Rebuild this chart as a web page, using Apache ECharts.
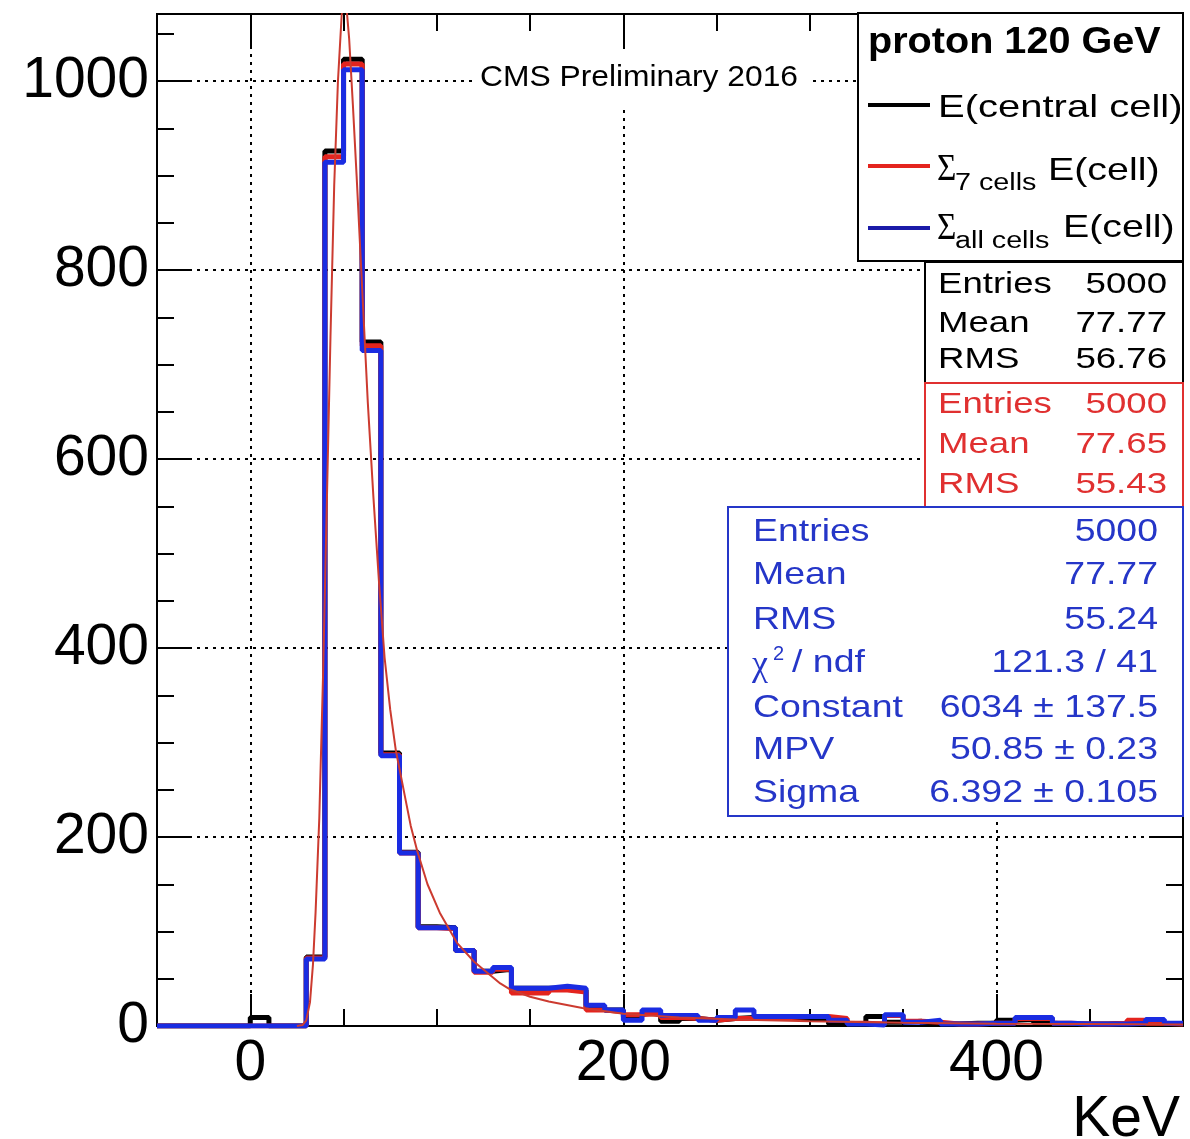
<!DOCTYPE html>
<html>
<head>
<meta charset="utf-8">
<script src="https://cdn.jsdelivr.net/npm/echarts@6/dist/echarts.min.js"></script>
<style>
html,body{margin:0;padding:0;background:#fff;}
#c{width:1190px;height:1139px;}
</style>
</head>
<body>
<div id="c"></div>
<script>
// ---------------- data ----------------
const xMin = -50, xMax = 500;          // KeV
const yMin = 0, yMax = 1071;           // counts
const binStart = -50, binWidth = 10;   // histogram binning (55 bins)
const xTickLabels = [0, 200, 400];
const yTickLabels = [0, 200, 400, 600, 800, 1000];

// bins: -50,-40,...,490 (left edges)
const centralCell = [0,0,0,0,0,9,0,0, 73,926,1023,724,289,184,105,104,80,58,60,40,40,40,38,20,17,10,14,5,8,6,8,9,8,8,8,8,2,2,10,4,5,2,2,3,3,6,7,3,2,2,2,3,5,3,2];
const sum7Cells   = [0,0,0,0,0,0,0,0, 72,920,1018,720,287,183,104,103,80,57,60,35,35,38,36,17,15,12,14,9,8,6,8,8,9,9,10,10,8,3,2,11,5,4,2,2,3,3,8,8,3,2,2,3,6,3,2];
const sumAllCells = [0,0,0,0,0,0,0,0, 71,914,1012,715,286,183,104,104,80,58,62,40,40,42,40,22,17,6,17,11,11,6,9,17,10,10,10,10,6,2,1,12,4,6,2,2,3,3,9,9,3,2,2,2,3,7,3];

// Landau fit curve of the "all cells" histogram
const fitX = [25,28,30,32,33.6,35,37,39,41,43,45,47,49,50.1,51.5,53,55,57,60,63,66,69,72,75,78,80,83,86,89.4,95,101.8,110.8,120,134,139,150,160,178,200,230,260,300,350,400,450,500];
const fitY = [0,1,6,25,65,120,220,370,550,730,890,1000,1070,1088,1080,1045,975,900,780,660,560,470,390,335,292,272,242,212,186,150,119,88,68,45,39,31,26,19,13,9,7,5,3.5,2.5,2,1.5];

const legendTitle = 'proton 120 GeV';
const seriesNames = ['E(central cell)', 'Σ7 cells E(cell)', 'Σall cells E(cell)', 'Landau fit'];
const statsCentral = [['Entries','5000'],['Mean','77.77'],['RMS','56.76']];
const stats7Cells  = [['Entries','5000'],['Mean','77.65'],['RMS','55.43']];
const statsAll     = [['Entries','5000'],['Mean','77.77'],['RMS','55.24'],['χ2 / ndf','121.3 / 41'],['Constant','6034 ± 137.5'],['MPV','50.85 ± 0.23'],['Sigma','6.392 ± 0.105']];
const watermark = 'CMS Preliminary 2016';
const xAxisTitle = 'KeV';

// ---------------- chart ----------------
const FONT = '"Liberation Sans", Arial, Helvetica, sans-serif';
const SERIF = '"Liberation Serif", "DejaVu Serif", serif';
const BLACK = '#000000', RED = '#e4241e', BLUE = '#1a2ce2', FITC = '#cc3b30';
const TXT_BLUE = '#2536c8', TXT_RED = '#e03030';

function histData(vals) {
  const d = vals.map((v, i) => [binStart + i * binWidth, v]);
  d.push([binStart + vals.length * binWidth, vals[vals.length - 1]]);
  return d;
}

const tickStyle = {color: '#000', width: 2};
function xAx(pos, major, extra) {
  return Object.assign({
    type: 'value', position: pos, min: xMin, max: xMax, interval: 50,
    axisLine: {show: false, onZero: false},
    axisTick: major ? {show: true, inside: true, length: 32, customValues: xTickLabels, lineStyle: tickStyle}
                    : {show: true, inside: true, length: 17, lineStyle: tickStyle},
    axisLabel: {show: false},
    splitLine: {show: false}
  }, extra || {});
}
function yAx(pos, major, extra) {
  return Object.assign({
    type: 'value', position: pos, min: yMin, max: yMax, interval: major ? 200 : 50,
    axisLine: {show: false, onZero: false},
    axisTick: {show: true, inside: true, length: major ? 32 : 17, lineStyle: tickStyle},
    axisLabel: {show: false},
    splitLine: {show: false}
  }, extra || {});
}
const gridLine = {show: true, lineStyle: {color: '#000', width: 2, type: [3, 5]}};
const plainNum = v => String(v);

const xAxes = [
  xAx('bottom', false),
  xAx('bottom', true, {
    axisLabel: {show: true, customValues: xTickLabels, formatter: plainNum, fontSize: 57, color: '#000', fontFamily: FONT, margin: 10},
    splitLine: gridLine,
    name: xAxisTitle, nameLocation: 'end', nameGap: -3,
    nameTextStyle: {fontSize: 57, color: '#000', fontFamily: FONT, align: 'right', verticalAlign: 'top', padding: [66, 0, 0, 0]}
  }),
  xAx('top', false),
  xAx('top', true)
];
const yAxes = [
  yAx('left', false),
  yAx('left', true, {
    axisLabel: {show: true, showMaxLabel: false, formatter: plainNum, fontSize: 57, color: '#000', fontFamily: FONT, margin: 8},
    splitLine: gridLine
  }),
  yAx('right', false),
  yAx('right', true)
];

// ---------------- boxes (legend / stats) ----------------
const G = [];
function rect(x, y, w, h, stroke) {
  G.push({type: 'rect', z: 100, shape: {x: x, y: y, width: w, height: h}, style: {fill: '#fff', stroke: stroke, lineWidth: 2}});
}
function txt(x, y, s, size, color, o) {
  o = o || {};
  G.push({type: 'text', z: 101, x: x, y: y, scaleX: o.sx || 1,
    style: {text: s, fontSize: size, fontFamily: o.family || FONT, fontWeight: o.weight || 'normal',
            fill: color, align: o.align || 'left', verticalAlign: 'middle'}});
}
function seg(x1, x2, y, color) {
  G.push({type: 'line', z: 101, shape: {x1: x1, y1: y, x2: x2, y2: y}, style: {stroke: color, lineWidth: 4}});
}

// CMS label
G.push({type: 'rect', z: 100, shape: {x: 472, y: 52, width: 338, height: 53}, style: {fill: '#fff'}});
txt(639, 78, watermark, 30, '#000', {align: 'center', sx: 1.06});

// legend
rect(858, 13, 325, 248, '#000');
txt(868, 43, legendTitle, 36, '#000', {weight: 'bold', sx: 1.1});
seg(868, 930, 105, BLACK);
seg(868, 930, 166, RED);
seg(868, 930, 228, '#1a1aa8');
txt(938, 108, seriesNames[0], 32, '#000', {sx: 1.25});
txt(937, 170, 'Σ', 37, '#000', {family: SERIF, sx: 0.9});
txt(955, 184, '7 cells', 23, '#000', {sx: 1.25});
txt(1048, 171, 'E(cell)', 32, '#000', {sx: 1.23});
txt(937, 229, 'Σ', 37, '#000', {family: SERIF, sx: 0.9});
txt(955, 242, 'all cells', 23, '#000', {sx: 1.25});
txt(1063, 228, 'E(cell)', 32, '#000', {sx: 1.23});

// stats: central cell (black)
rect(925, 262, 258, 121, '#000');
[285, 324, 360].forEach((y, i) => {
  txt(938, y, statsCentral[i][0], 30, '#000', {sx: 1.22});
  txt(1167, y, statsCentral[i][1], 30, '#000', {sx: 1.22, align: 'right'});
});
// stats: 7 cells (red)
rect(925, 383, 258, 124, TXT_RED);
[405, 445, 485].forEach((y, i) => {
  txt(938, y, stats7Cells[i][0], 30, TXT_RED, {sx: 1.22});
  txt(1167, y, stats7Cells[i][1], 30, TXT_RED, {sx: 1.22, align: 'right'});
});
// stats: all cells (blue)
rect(728, 507, 455, 309, TXT_BLUE);
[532, 575, 620, 663, 708, 750, 793].forEach((y, i) => {
  const lab = statsAll[i][0];
  if (lab.indexOf('χ') === 0) {
    txt(752, y + 3, 'χ', 36, TXT_BLUE, {family: SERIF});
    txt(773, y - 9, '2', 20, TXT_BLUE);
    txt(792, y, '/ ndf', 32, TXT_BLUE, {sx: 1.17});
  } else {
    txt(753, y, lab, 32, TXT_BLUE, {sx: 1.17});
  }
  txt(1158, y, statsAll[i][1], 32, TXT_BLUE, {sx: 1.17, align: 'right'});
});

const option = {
  animation: false,
  backgroundColor: '#fff',
  grid: {left: 157, right: 7, top: 14, bottom: 113, containLabel: false, outerBoundsMode: 'none',
         show: true, borderColor: '#000', borderWidth: 2, backgroundColor: '#fff'},
  xAxis: xAxes,
  yAxis: yAxes,
  series: [
    {name: seriesNames[0], type: 'line', step: 'end', data: histData(centralCell), symbol: 'none',
     lineStyle: {color: BLACK, width: 5}, z: 3, silent: true},
    {name: seriesNames[1], type: 'line', step: 'end', data: histData(sum7Cells), symbol: 'none',
     lineStyle: {color: RED, width: 5}, z: 4, silent: true},
    {name: seriesNames[2], type: 'line', step: 'end', data: histData(sumAllCells), symbol: 'none',
     lineStyle: {color: BLUE, width: 5}, z: 5, silent: true},
    {name: seriesNames[3], type: 'line', data: fitX.map((x, i) => [x, fitY[i]]), symbol: 'none',
     lineStyle: {color: FITC, width: 2}, z: 6, silent: true}
  ],
  graphic: {elements: G}
};
const chart = echarts.init(document.getElementById('c'));
chart.setOption(option);
</script>
</body>
</html>
